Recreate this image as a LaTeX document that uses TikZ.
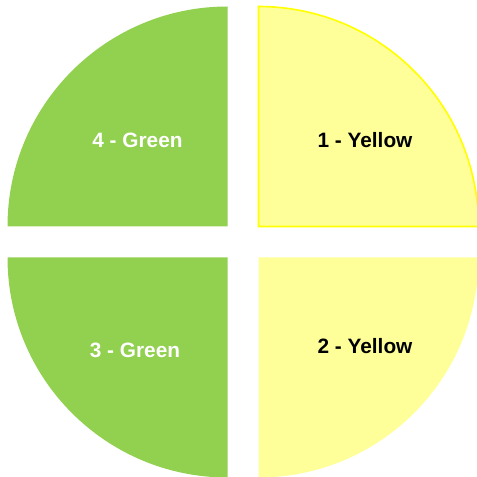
\documentclass[tikz,border=0pt]{standalone}
\usepackage{fontspec}
\setmainfont{Liberation Sans}
\usepackage{xcolor}

\definecolor{leafgreen}{HTML}{92D050}
\definecolor{paleyellow}{HTML}{FFFF99}
\definecolor{brightyellow}{HTML}{FFFF00}

\begin{document}
\begin{tikzpicture}[x=1pt, y=1pt,
  label/.style={font=\bfseries\fontsize{20.8}{24}\selectfont, inner sep=0pt}]
  \useasboundingbox (0,0) rectangle (477,477);
  \clip (0,0) rectangle (477,477);

  % Define the quadrant corners
  \coordinate (NW) at (227.5,250.5);
  \coordinate (NE) at (258.5,250.5);
  \coordinate (SW) at (227.5,219.5);
  \coordinate (SE) at (258.5,219.5);

  % Draw the four quarter discs
  \fill[leafgreen] (NW) -- ++(-220,0) arc (180:90:220) -- cycle;
  \draw[brightyellow, fill=paleyellow, line width=1.6pt] (NE) -- ++(0,220) arc (90:0:220) -- cycle;
  \fill[leafgreen] (SW) -- ++(0,-220) arc (270:180:220) -- cycle;
  \fill[paleyellow] (SE) -- ++(220,0) arc (0:-90:220) -- cycle;

  % Put the labels on the quarters
  \node[label, white] (green4) at (137.5,337) {4 - Green};
  \node[label] (yellow1) at (365,337) {1 - Yellow};
  \node[label, white] (green3) at (135,127) {3 - Green};
  \node[label] (yellow2) at (365,131) {2 - Yellow};
\end{tikzpicture}
\end{document}
